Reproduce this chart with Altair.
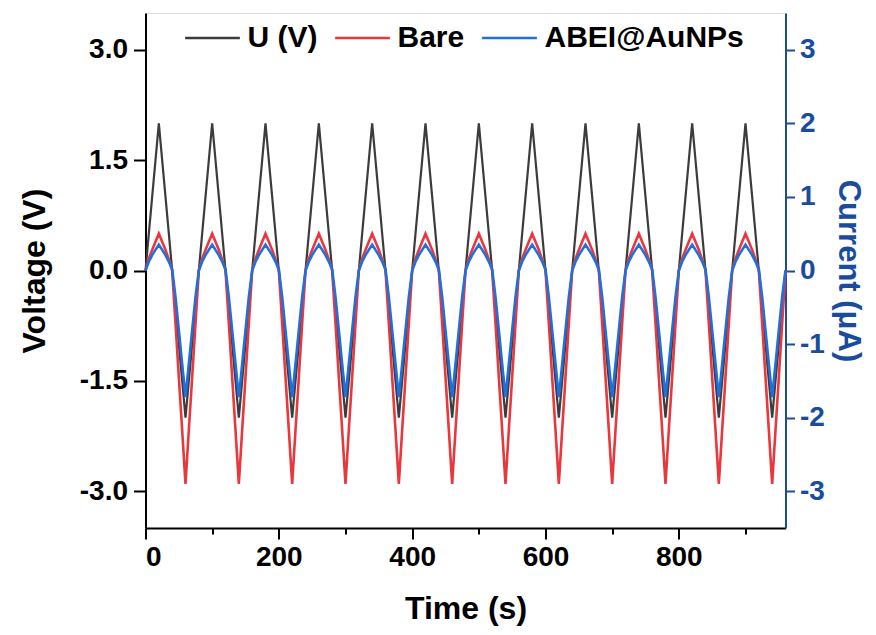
import altair as alt
import pandas as pd

# one sampling cycle (80 s period), repeated 12 times
cycle_t = [0, 5, 10, 15, 20, 25, 30, 35, 40, 45, 50, 55, 60, 65, 70, 75]
u_cycle = [0.0, 0.5, 1.0, 1.5, 2.0, 1.5, 1.0, 0.5, 0.0, -0.5, -1.0, -1.5, -2.0, -1.5, -1.0, -0.5]
bare_cycle = [0.0, 0.16, 0.28, 0.39, 0.50, 0.39, 0.28, 0.15, 0.0, -0.72, -1.45, -2.17, -2.90, -2.17, -1.45, -0.72]
abei_cycle = [0.0, 0.12, 0.21, 0.28, 0.35, 0.28, 0.21, 0.12, 0.02, -0.36, -0.81, -1.27, -1.72, -1.27, -0.81, -0.36]
n_cycles = 12
period = 80

series_names = ["U (V)", "Bare", "ABEI@AuNPs"]
series_colors = ["#3c3c3c", "#e8383d", "#1f6fdc"]

rows_u, rows_i = [], []
for k in range(n_cycles):
    for t, u, b, a in zip(cycle_t, u_cycle, bare_cycle, abei_cycle):
        tt = k * period + t
        rows_u.append({"t": tt, "v": u, "s": "U (V)"})
        rows_i.append({"t": tt, "v": b, "s": "Bare", "o": 0})
        rows_i.append({"t": tt, "v": a, "s": "ABEI@AuNPs", "o": 1})
end_t = n_cycles * period
rows_u.append({"t": end_t, "v": 0.0, "s": "U (V)"})
rows_i.append({"t": end_t, "v": 0.0, "s": "Bare", "o": 0})
rows_i.append({"t": end_t, "v": 0.0, "s": "ABEI@AuNPs", "o": 1})

df_u = pd.DataFrame(rows_u)
df_i = pd.DataFrame(rows_i).sort_values(["o", "t"])

FONT = "Liberation Sans"
AXIS_BLUE = "#1a4c9e"
LBL = 28
TTL = 32

xscale = alt.Scale(domain=[0, 960], nice=False, zero=False)
x_axis = alt.Axis(
    title="Time (s)", values=[0, 100, 200, 300, 400, 500, 600, 700, 800, 900],
    labelExpr="datum.value % 200 === 0 ? datum.label : ''",
    tickSize={"condition": {"test": "datum.value % 200 === 0", "value": 11}, "value": 6},
    grid=False, domainColor="black", tickColor="black", domainWidth=2, tickWidth=2,
    labelFontSize=LBL, labelFont=FONT, labelFontWeight="bold", labelColor="black",
    labelPadding=4, titleFontSize=TTL, titleFont=FONT, titleFontWeight="bold",
    titleColor="black", titlePadding=22,
)

color = alt.Color("s:N", scale=alt.Scale(domain=series_names, range=series_colors),
                  legend=alt.Legend(
                      title=None, orient="none", legendX=38, legendY=-4, direction="horizontal",
                      symbolType="stroke", symbolSize=3000, symbolStrokeWidth=2.5,
                      labelFontSize=30, labelFont=FONT, labelFontWeight="bold",
                      labelColor="black", labelOffset=6, columnPadding=12,
                      labelLimit=400,
                  ))

u_layer = alt.Chart(df_u).mark_line(strokeWidth=2.2).encode(
    x=alt.X("t:Q", scale=xscale, axis=x_axis),
    y=alt.Y("v:Q", scale=alt.Scale(domain=[-3.5, 3.5], nice=False, zero=False),
            axis=alt.Axis(title="Voltage (V)", values=[-3, -1.5, 0, 1.5, 3],
                          labelExpr="replace(format(datum.value, '.1f'), '\u2212', '-')",
                          grid=False, domainColor="black", tickColor="black",
                          domainWidth=2, tickWidth=2, tickSize=12,
                          labelFontSize=LBL, labelFont=FONT, labelFontWeight="bold",
                          labelColor="black", labelPadding=6,
                          titleFontSize=TTL, titleFont=FONT, titleFontWeight="bold",
                          titleColor="black", titlePadding=28)),
    color=color,
)

i_layer = alt.Chart(df_i).mark_line(strokeWidth=2.6).encode(
    x=alt.X("t:Q", scale=xscale, axis=x_axis),
    y=alt.Y("v:Q", scale=alt.Scale(domain=[-3.5, 3.5], nice=False, zero=False),
            axis=alt.Axis(title="Current (μA)", orient="right",
                          values=[-3, -2, -1, 0, 1, 2, 3],
                          labelExpr="replace(format(datum.value, 'd'), '\u2212', '-')",
                          grid=False, domainColor=AXIS_BLUE, tickColor=AXIS_BLUE,
                          domainWidth=2, tickWidth=2, tickSize=9,
                          labelFontSize=LBL, labelFont=FONT, labelFontWeight="bold",
                          labelColor=AXIS_BLUE, labelPadding=5,
                          titleFontSize=31, titleFont=FONT, titleFontWeight="bold",
                          titleColor=AXIS_BLUE, titlePadding=7)),
    color=color,
    order=alt.Order("o:Q"),
    detail="s:N",
)

chart = alt.layer(u_layer, i_layer).resolve_scale(y="independent").properties(
    width=640, height=515,
    autosize=alt.AutoSizeParams(type="none"),
    padding={"left": 137.5, "top": 5, "right": 82, "bottom": 98},
).configure_view(stroke="black", strokeWidth=2).configure(background="white")

chart.save("out.html", embed_options={"renderer": "svg", "actions": False})
